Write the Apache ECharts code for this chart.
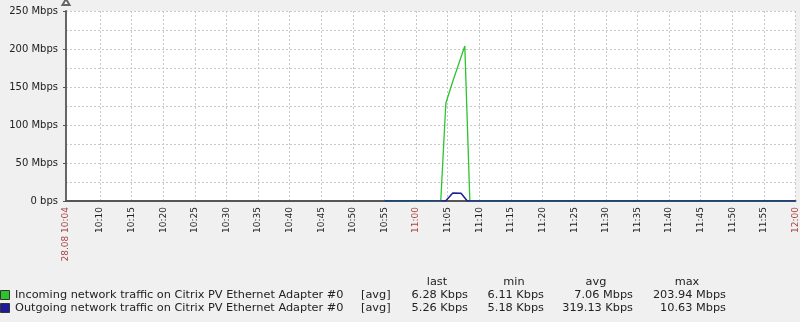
<!DOCTYPE html>
<html><head><meta charset="utf-8">
<script src="https://cdn.jsdelivr.net/npm/echarts@6/dist/echarts.min.js"></script>
<style>html,body{margin:0;padding:0;background:#f0f0f0}#c{width:800px;height:322px}</style>
</head><body><div id="c"></div>
<script>
// time in minutes after 10:00 on 28.08; values in Mbps
const xStart = 4.63, xEnd = 120;
const xTickMinutes = [4.63,10,15,20,25,30,35,40,45,50,55,60,65,70,75,80,85,90,95,100,105,110,115,120];
const redTickMinutes = [4.63, 60, 120];
const inTimes  = [55, 63.9, 64.7, 65.7, 67.7, 68.5, 120];
const inValues = [0.0063, 0.0061, 128.6, 154.9, 203.94, 0.0063, 0.00628];
const outTimes  = [55, 64.7, 65.8, 67.1, 68.1, 120];
const outValues = [0.0052, 0.3, 10.63, 10.2, 0.0053, 0.00526];
const yTicks = [0, 50, 100, 150, 200, 250];
const legendNames = ['Incoming network traffic on Citrix PV Ethernet Adapter #0', 'Outgoing network traffic on Citrix PV Ethernet Adapter #0'];
const legendFunc = ['[avg]', '[avg]'];
const colHeaders = ['last', 'min', 'avg', 'max'];
const lastVals = ['6.28 Kbps', '5.26 Kbps'];
const minVals = ['6.11 Kbps', '5.18 Kbps'];
const avgVals = ['7.06 Mbps', '319.13 Kbps'];
const maxVals = ['203.94 Mbps', '10.63 Mbps'];
const colors = ['#2cc42c', '#1c1c98'];

const FONT = 'DejaVu Sans';
const pair = (t, v) => t.map((x, i) => [x, v[i]]);
const isRed = v => redTickMinutes.some(r => Math.abs(v - r) < 0.01);
function fmtTime(v) {
  if (Math.abs(v - xStart) < 0.01) return '28.08 10:04';
  const r = Math.round(v);
  const h = 10 + Math.floor(r / 60), m = r % 60;
  return h + ':' + String(m).padStart(2, '0');
}
function yFmt(v) { return v === 0 ? '0 bps' : v + ' Mbps'; }

const chart = echarts.init(document.getElementById('c'), null, {renderer: 'canvas'});
const graphics = [];
const rowY = [295, 308];
const LF = '11.3px ' + FONT;
const valCols = [[lastVals, 468], [minVals, 544], [avgVals, 633], [maxVals, 726]];
const headerCenters = [437, 514, 596, 687];
colHeaders.forEach((h, i) => graphics.push({type: 'text', x: headerCenters[i], y: 282,
  style: {text: h, font: LF, fill: '#222', align: 'center', verticalAlign: 'middle'}}));
legendNames.forEach((n, r) => {
  graphics.push({type: 'rect', shape: {x: 0.5, y: rowY[r] - 4.5, width: 9, height: 9},
    style: {fill: colors[r], stroke: '#333', lineWidth: 1}});
  graphics.push({type: 'text', x: 15, y: rowY[r], style: {text: n, font: LF, fill: '#222', verticalAlign: 'middle'}});
  graphics.push({type: 'text', x: 361, y: rowY[r], style: {text: legendFunc[r], font: LF, fill: '#222', verticalAlign: 'middle'}});
  valCols.forEach(([arr, right]) => graphics.push({type: 'text', x: right, y: rowY[r],
    style: {text: arr[r], font: LF, fill: '#222', align: 'right', verticalAlign: 'middle'}}));
});

chart.setOption({
  backgroundColor: '#f0f0f0',
  animation: false,
  grid: {left: 66, top: 11, right: 3, bottom: 121, show: true, backgroundColor: '#ffffff', borderWidth: 0},
  xAxis: {
    type: 'value', min: xStart, max: xEnd,
    axisLine: {show: true, onZero: false, lineStyle: {color: '#555', width: 2}},
    axisTick: {show: false, customValues: xTickMinutes},
    axisLabel: {customValues: xTickMinutes, rotate: 90, margin: 6, fontFamily: FONT, fontSize: 9,
      formatter: fmtTime,
      color: v => isRed(v) ? '#a84343' : '#222'},
    splitLine: {show: true, lineStyle: {color: '#c8c8c8', type: [2, 2], width: 1}}
  },
  yAxis: {
    type: 'value', min: 0, max: 250, interval: 50,
    axisLine: {show: true, lineStyle: {color: '#666', width: 2}, symbol: ['none', 'emptyTriangle'], symbolSize: [7, 6], symbolOffset: [0, 9]},
    axisTick: {show: true, length: 3, lineStyle: {color: '#555'}},
    axisLabel: {margin: 8, fontFamily: FONT, fontSize: 10, color: '#222', formatter: yFmt},
    splitLine: {show: true, lineStyle: {color: '#c8c8c8', type: [2, 2], width: 1}},
    minorTick: {show: false, splitNumber: 2},
    minorSplitLine: {show: true, lineStyle: {color: '#c8c8c8', type: [2, 2], width: 1}}
  },
  series: [
    {type: 'line', name: legendNames[0], data: pair(inTimes, inValues), showSymbol: false,
      lineStyle: {color: colors[0], width: 1.3}, z: 3},
    {type: 'line', name: legendNames[1], data: pair(outTimes, outValues), showSymbol: false,
      lineStyle: {color: colors[1], width: 1.5}, z: 4}
  ],
  graphic: graphics
});
</script></body></html>
